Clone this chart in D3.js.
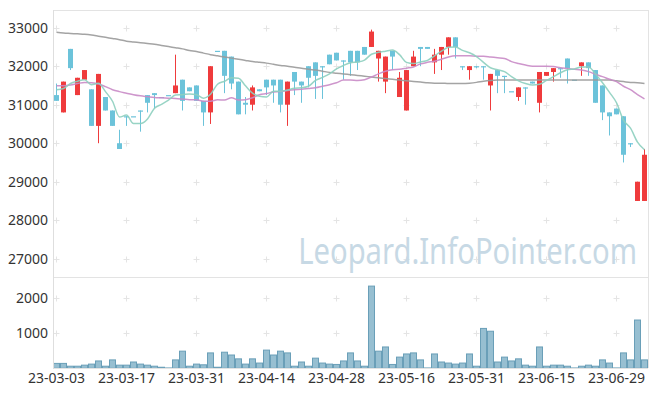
<!DOCTYPE html>
<html>
<head>
<meta charset="utf-8">
<script src="https://cdn.jsdelivr.net/npm/d3@7"></script>
<style>
body { margin: 0; background: #fff; }
svg text { font-family: "Noto Sans", sans-serif; }
</style>
</head>
<body>
<svg id="chart" width="657" height="396"></svg>
<script>
var dates = ["23-03-03","23-03-06","23-03-07","23-03-08","23-03-09","23-03-10","23-03-13","23-03-14","23-03-15","23-03-16",
    "23-03-17","23-03-20","23-03-21","23-03-22","23-03-23","23-03-24","23-03-27","23-03-28","23-03-29","23-03-30",
    "23-03-31","23-04-03","23-04-04","23-04-05","23-04-06","23-04-07","23-04-10","23-04-11","23-04-12","23-04-13",
    "23-04-14","23-04-17","23-04-18","23-04-19","23-04-20","23-04-21","23-04-24","23-04-25","23-04-26","23-04-27",
    "23-04-28","23-05-02","23-05-03","23-05-04","23-05-08","23-05-09","23-05-10","23-05-11","23-05-12","23-05-15",
    "23-05-16","23-05-17","23-05-18","23-05-19","23-05-22","23-05-23","23-05-24","23-05-25","23-05-26","23-05-30",
    "23-05-31","23-06-01","23-06-02","23-06-05","23-06-07","23-06-08","23-06-09","23-06-12","23-06-13","23-06-14",
    "23-06-15","23-06-16","23-06-19","23-06-20","23-06-21","23-06-22","23-06-23","23-06-26","23-06-27","23-06-28",
    "23-06-29","23-06-30","23-07-03","23-07-04","23-07-05"];

var openPrices = [31250,30800,32450,31250,31650,31400,30450,31200,30850,30000,
    30700,30700,30850,31250,31300,31200,31250,31300,31650,31450,
    31500,31100,30800,32400,32400,32250,31600,31050,31000,31400,
    31650,31650,31650,31000,31850,31600,32000,32100,32000,32300,
    32350,32150,32400,32400,32500,32500,32200,31600,32400,31200,
    30850,32000,32500,32500,32100,32300,32500,32750,32000,31900,
    32000,32000,31500,31900,31750,31350,31200,31450,31600,31050,
    31750,31850,31950,32200,31650,32000,32100,31900,31500,30800,
    30900,30700,30000,28500,28500];

var highPrices = [31550,31600,32450,31700,31900,31400,31800,31200,30850,30350,
    30700,30700,30850,31250,31300,31200,31250,32300,31650,31450,
    31500,31100,32000,32400,32400,32250,31600,31200,31500,31400,
    31650,31650,31650,31600,31850,31600,32000,32100,32000,32300,
    32350,32150,32400,32400,32500,32950,32400,32250,32400,31850,
    31900,32400,32500,32500,32450,32500,32750,32750,32000,32000,
    32000,32000,31800,31900,31750,31350,31450,31450,31600,31850,
    31850,31950,31950,32200,31650,32100,32100,31900,31500,30800,
    30900,30700,30000,29000,29850];

var lowPrices = [31100,30800,31900,31250,31650,30450,30000,30850,30450,29850,
    30450,30700,30300,30800,30900,31200,31250,31300,30850,31350,
    31100,30450,30500,32400,31300,31400,30750,30750,30850,31350,
    31250,31050,30800,30450,31250,31050,31450,31150,31150,32050,
    32150,31650,31750,31900,32300,32500,31600,31300,31900,31200,
    30850,32000,32000,32450,31800,31900,32300,32200,31900,31650,
    31950,31650,30850,31300,31300,31350,31100,31000,31550,30800,
    31750,31600,31700,31550,31650,31750,31750,31050,30600,30200,
    30750,29500,29900,28500,28500];

var closePrices = [31100,31600,31950,31700,31900,30450,31800,30850,30450,29850,
    30700,30700,30850,31050,31250,31200,31250,31500,31100,31350,
    31100,30800,32000,32400,31750,31550,30750,31000,31450,31350,
    31450,31500,31000,31600,31600,31500,31700,31750,32000,32050,
    32150,32150,32100,32100,32300,32900,32400,32250,32250,31700,
    31900,32250,32450,32450,32300,32500,32750,32500,32000,32000,
    32000,32000,31800,31750,31750,31350,31450,31450,31550,31850,
    31850,31950,31950,31950,31650,32100,31950,31050,30800,30700,
    30750,29700,30000,29000,29700];

var volumes = [140,140,60,60,90,120,210,60,240,90,
    90,180,120,90,60,30,10,240,490,60,
    120,100,440,30,460,380,270,120,270,150,
    520,380,490,440,60,180,60,290,150,120,
    110,210,440,210,60,2350,490,610,110,320,
    410,440,240,10,410,180,150,120,150,410,
    60,1140,1060,180,320,210,270,90,60,610,
    60,90,90,60,10,60,90,60,240,150,
    10,440,240,1380,240];

var ma5 = [31390,31420,31550,31610,31650,31520,31560,31340,31090,30680,
    30730,30510,30510,30630,30910,31010,31120,31250,31260,31280,
    31260,31170,31270,31530,31610,31700,31690,31490,31300,31220,
    31200,31350,31350,31380,31430,31440,31480,31630,31710,31800,
    31930,32020,32090,32110,32160,32310,32360,32390,32420,32300,
    32100,32070,32110,32150,32270,32390,32490,32500,32410,32350,
    32250,32100,31960,31910,31860,31730,31620,31550,31510,31530,
    31630,31730,31830,31910,31930,31980,31980,31800,31570,31320,
    31050,30600,30390,30030,29830];

var ma20 = [31490,31490,31510,31550,31580,31570,31540,31470,31390,31340,
    31300,31260,31230,31210,31190,31180,31170,31160,31150,31130,
    31130,31090,31090,31130,31120,31180,31120,31130,31180,31260,
    31290,31330,31340,31370,31390,31400,31420,31440,31480,31520,
    31570,31640,31640,31630,31650,31720,31800,31870,31910,31920,
    31950,31980,32060,32100,32130,32180,32240,32270,32270,32270,
    32260,32260,32240,32220,32200,32120,32070,32030,32000,32000,
    32000,31990,31960,31940,31920,31900,31860,31790,31730,31660,
    31600,31480,31390,31260,31150];

var ma60 = [32880,32860,32850,32840,32830,32810,32780,32750,32720,32690,
    32650,32630,32610,32590,32570,32540,32510,32480,32450,32410,
    32380,32340,32300,32270,32240,32210,32180,32150,32120,32100,
    32080,32050,32020,32000,31970,31950,31920,31900,31870,31840,
    31820,31800,31780,31760,31740,31720,31700,31680,31660,31640,
    31620,31600,31590,31570,31560,31560,31550,31550,31550,31560,
    31580,31610,31630,31640,31640,31640,31640,31640,31640,31640,
    31640,31640,31640,31640,31640,31640,31640,31640,31640,31640,
    31620,31600,31580,31570,31550];

var priceTicks = [27000, 28000, 29000, 30000, 31000, 32000, 33000];
var volumeTicks = [1000, 2000];
var dateTicks = dates.filter(function (d, i) { return i % 10 === 0; });

var upColor = "#ef3b3c",
    downColor = "#6cc3da";

var svg = d3.select("#chart");
var plotLeft = 53, plotRight = 648, plotTop = 10, plotSplit = 277, plotBottom = 368;

var x = d3.scaleBand()
    .domain(dates)
    .range([plotLeft, plotRight])
    .paddingInner(2 / 7)
    .paddingOuter(1 / 7);
var cx = function (d) { return x(d) + x.bandwidth() / 2; };

var y = d3.scaleLinear().domain([26525, 33460]).range([plotSplit, plotTop]);
var yv = d3.scaleLinear().domain([0, 2610]).range([plotBottom + 0.3, plotSplit]);

// frame lines
var frame = svg.append("g").attr("stroke", "#e3e3e3").attr("stroke-width", 1);
frame.append("line").attr("x1", plotLeft).attr("x2", plotRight).attr("y1", plotTop + 0.5).attr("y2", plotTop + 0.5);
frame.append("line").attr("x1", plotLeft).attr("x2", plotRight).attr("y1", plotSplit + 0.5).attr("y2", plotSplit + 0.5);
frame.append("line").attr("x1", plotRight + 0.5).attr("x2", plotRight + 0.5).attr("y1", plotTop).attr("y2", plotBottom);

// "+" markers on grid crossings
var crossY = priceTicks.map(function (v) { return y(v); })
    .concat(volumeTicks.map(function (v) { return yv(v); }));
var crosses = [];
dateTicks.forEach(function (d) {
    crossY.forEach(function (py) { crosses.push([cx(d), Math.round(py) + 0.5]); });
});
svg.append("g").selectAll("path.cross")
    .data(crosses)
    .enter()
    .append("path")
    .attr("class", "cross")
    .attr("d", function (p) {
        return "M" + (p[0] - 3) + "," + p[1] + "h6M" + p[0] + "," + (p[1] - 3) + "v6";
    })
    .attr("stroke", "#e4e4e4")
    .attr("stroke-width", 1)
    .attr("fill", "none");

// watermark: tall, horizontally squeezed to the original's width
var mark = svg.append("text")
    .attr("x", 0)
    .attr("y", 0)
    .attr("text-anchor", "end")
    .attr("font-size", 36)
    .attr("fill", "#c7d9e5")
    .text("Leopard.InfoPointer.com");
var markWidth = mark.node().getComputedTextLength();
var squeeze = markWidth > 0 ? 339 / markWidth : 1;
mark.attr("transform", "translate(637,264) scale(" + squeeze + ",1)");

// volume bars
svg.append("g").selectAll("rect.vol")
    .data(dates)
    .enter()
    .append("rect")
    .attr("class", "vol")
    .attr("x", function (d) { return cx(d) - x.step() / 2 + 0.5; })
    .attr("width", x.step() - 1)
    .attr("y", function (d, i) { return yv(volumes[i]); })
    .attr("height", function (d, i) { return Math.max(0, yv(0) - yv(volumes[i])); })
    .attr("fill", "#97bfd1")
    .attr("stroke", "#6a9fb8")
    .attr("stroke-width", 1);

// candles
var candleColor = function (i) {
    return closePrices[i] > openPrices[i] ? upColor : downColor;
};
var candles = svg.append("g").selectAll("g.candle")
    .data(dates)
    .enter()
    .append("g")
    .attr("class", "candle");

candles.append("line")
    .attr("x1", cx).attr("x2", cx)
    .attr("y1", function (d, i) { return y(highPrices[i]); })
    .attr("y2", function (d, i) { return y(lowPrices[i]); })
    .attr("stroke", function (d, i) { return candleColor(i); })
    .attr("stroke-width", 1);

candles.append("rect")
    .attr("x", function (d) { return x(d); })
    .attr("width", x.bandwidth())
    .attr("y", function (d, i) { return y(Math.max(openPrices[i], closePrices[i])); })
    .attr("height", function (d, i) {
        return Math.max(1.2, Math.abs(y(openPrices[i]) - y(closePrices[i])));
    })
    .attr("fill", function (d, i) { return candleColor(i); });

// moving averages
var maLine = function (values) {
    return d3.line()
        .x(function (d, i) { return cx(dates[i]); })
        .y(function (d) { return y(d); })
        .curve(d3.curveMonotoneX)(values);
};
[[ma60, "#9a9a9a"], [ma20, "#c98bc6"], [ma5, "#8dcfbf"]].forEach(function (m) {
    svg.append("path")
        .attr("d", maLine(m[0]))
        .attr("fill", "none")
        .attr("stroke", m[1])
        .attr("stroke-width", 1.5)
        .attr("stroke-opacity", 0.9);
});

// axes
var yAxis = svg.append("g")
    .attr("transform", "translate(" + plotLeft + ",0)")
    .call(d3.axisLeft(y).tickValues(priceTicks).tickFormat(d3.format("d")).tickSize(0).tickPadding(5));
var yvAxis = svg.append("g")
    .attr("transform", "translate(" + plotLeft + ",0)")
    .call(d3.axisLeft(yv).tickValues(volumeTicks).tickFormat(d3.format("d")).tickSize(0).tickPadding(5));
var xAxis = svg.append("g")
    .attr("transform", "translate(0," + plotBottom + ")")
    .call(d3.axisBottom(x).tickValues(dateTicks).tickSize(0).tickPadding(5));

yAxis.select(".domain").remove();
yvAxis.select(".domain").remove();
xAxis.select(".domain").attr("stroke", "#e3e3e3").attr("d", "M" + plotLeft + ",0.5H" + plotRight);
svg.append("line")
    .attr("x1", plotLeft + 0.5).attr("x2", plotLeft + 0.5)
    .attr("y1", plotTop).attr("y2", plotBottom + 1)
    .attr("stroke", "#dedede");

svg.selectAll(".tick text")
    .attr("font-family", "'Noto Sans', sans-serif")
    .attr("font-size", 14)
    .attr("fill", "#333");
</script>
</body>
</html>
